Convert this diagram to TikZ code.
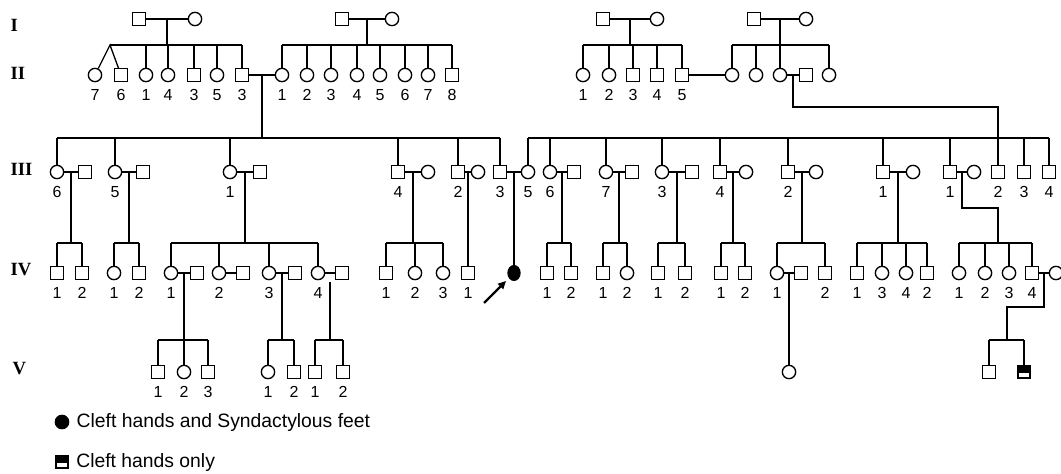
\documentclass[tikz,border=0pt]{standalone}
\usepackage{fontspec}
\setmainfont{Liberation Sans}
\newfontfamily\genfont{Liberation Serif}
\usetikzlibrary{calc,positioning,shapes.geometric,arrows.meta}

\tikzset{
  male/.style={draw, rectangle, minimum size=9.5pt, inner sep=0pt},
  female/.style={draw, circle, minimum size=10pt, inner sep=0pt},
  proband/.style={draw, ellipse, fill=black, minimum width=9pt, minimum height=11pt, inner sep=0pt},
  cleft/.style={male, fill=black, path picture={\fill[white] ([shift={(1.3pt,1.3pt)}]path picture bounding box.south west) rectangle ([shift={(-1.3pt,-0.6pt)}]path picture bounding box.east);}},
  gen/.style={font=\genfont\bfseries\fontsize{14}{15}\selectfont, anchor=west, inner sep=0pt},
  every label/.style={font=\fontsize{12}{13}\selectfont, inner sep=0pt},
  key/.style={font=\fontsize{14.5}{16}\selectfont, inner sep=0pt},
  label distance=5pt
}

\begin{document}
\begin{tikzpicture}[x=0.75pt, y=-0.75pt, line width=1pt]
    \useasboundingbox (0,0) rectangle (1061,474);

    % Generation labels
    \node[gen] (gI)   at (10,25)  {I};
    \node[gen] (gII)  at (10,73)  {II};
    \node[gen] (gIII) at (10,169) {III};
    \node[gen] (gIV)  at (10,270) {IV};
    \node[gen] (gV)   at (12,369) {V};

    % Generation I
    \node[male]   (IA1) at (139,19) {};
    \node[female] (IA2) at (195,19) {};
    \node[male]   (IB1) at (342,19) {};
    \node[female] (IB2) at (392,19) {};
    \node[male]   (IC1) at (603,19) {};
    \node[female] (IC2) at (657,19) {};
    \node[male]   (ID1) at (754,19) {};
    \node[female] (ID2) at (806,19) {};

    % Generation II
    \node[female, label=below:7] (a1) at (95,75)  {};
    \node[male,   label=below:6] (a2) at (121,75) {};
    \node[female, label=below:1] (a3) at (146,75) {};
    \node[female, label=below:4] (a4) at (168,75) {};
    \node[male,   label=below:3] (a5) at (194,75) {};
    \node[female, label=below:5] (a6) at (217,75) {};
    \node[male,   label=below:3] (a7) at (242,75) {};
    \foreach \n/\x in {1/282,2/307,3/331,4/357,5/380,6/405,7/428}
        \node[female, label=below:\n] (b\n) at (\x,75) {};
    \node[male,   label=below:8] (b8) at (452,75) {};
    \node[female, label=below:1] (c1) at (583,75) {};
    \node[female, label=below:2] (c2) at (609,75) {};
    \node[male,   label=below:3] (c3) at (633,75) {};
    \node[male,   label=below:4] (c4) at (657,75) {};
    \node[male,   label=below:5] (c5) at (682,75) {};
    \node[female] (d1)  at (732,75) {};
    \node[female] (d2)  at (756,75) {};
    \node[female] (d3)  at (780,75) {};
    \node[male]   (d3s) at (806,75) {};
    \node[female] (d4)  at (829,75) {};

    % Generation III
    \node[female, label=below:6] (e1) at (57,172)  {};
    \node[male]                  (e1s) at (85,172) {};
    \node[female, label=below:5] (e2) at (115,172) {};
    \node[male]                  (e2s) at (143,172) {};
    \node[female, label=below:1] (e3) at (230,172) {};
    \node[male]                  (e3s) at (260,172) {};
    \node[male,   label=below:4] (e4) at (398,172) {};
    \node[female]                (e4s) at (428,172) {};
    \node[male,   label=below:2] (e5) at (458,172) {};
    \node[female]                (e5s) at (478,172) {};
    \node[male,   label=below:3] (e6) at (500,172) {};
    \node[female, label=below:5] (f1) at (528,172) {};
    \node[female, label=below:6] (f2) at (550,172) {};
    \node[male]                  (f2s) at (574,172) {};
    \node[female, label=below:7] (f3) at (606,172) {};
    \node[male]                  (f3s) at (632,172) {};
    \node[female, label=below:3] (f4) at (662,172) {};
    \node[male]                  (f4s) at (692,172) {};
    \node[male,   label=below:4] (f5) at (720,172) {};
    \node[female]                (f5s) at (746,172) {};
    \node[male,   label=below:2] (f6) at (788,172) {};
    \node[female]                (f6s) at (816,172) {};
    \node[male,   label=below:1] (f7) at (883,172) {};
    \node[female]                (f7s) at (913,172) {};
    \node[male,   label=below:1] (f8) at (950,172) {};
    \node[female]                (f8s) at (974,172) {};
    \node[male,   label=below:2] (f9)  at (998,172)  {};
    \node[male,   label=below:3] (f10) at (1024,172) {};
    \node[male,   label=below:4] (f11) at (1049,172) {};

    % Generation IV
    \node[male,   label=below:1] (g1) at (57,273)  {};
    \node[male,   label=below:2] (g2) at (82,273)  {};
    \node[female, label=below:1] (g3) at (114,273) {};
    \node[male,   label=below:2] (g4) at (139,273) {};
    \node[female, label=below:1] (h1) at (171,273) {};
    \node[male]                  (h1s) at (197,273) {};
    \node[female, label=below:2] (h2) at (219,273) {};
    \node[male]                  (h2s) at (243,273) {};
    \node[female, label=below:3] (h3) at (269,273) {};
    \node[male]                  (h3s) at (295,273) {};
    \node[female, label=below:4] (h4) at (318,273) {};
    \node[male]                  (h4s) at (342,273) {};
    \node[male,   label=below:1] (i1) at (386,273) {};
    \node[female, label=below:2] (i2) at (415,273) {};
    \node[female, label=below:3] (i3) at (443,273) {};
    \node[male,   label=below:1] (i4) at (468,273) {};
    \node[proband]               (pro) at (514,273) {};
    \node[male,   label=below:1] (j1) at (547,273) {};
    \node[male,   label=below:2] (j2) at (571,273) {};
    \node[male,   label=below:1] (j3) at (603,273) {};
    \node[female, label=below:2] (j4) at (627,273) {};
    \node[male,   label=below:1] (j5) at (658,273) {};
    \node[male,   label=below:2] (j6) at (685,273) {};
    \node[male,   label=below:1] (j7) at (721,273) {};
    \node[male,   label=below:2] (j8) at (745,273) {};
    \node[female, label=below:1] (k1) at (777,273) {};
    \node[male]                  (k1s) at (801,273) {};
    \node[male,   label=below:2] (k2) at (825,273) {};
    \node[male,   label=below:1] (l1) at (857,273) {};
    \node[female, label=below:3] (l2) at (882,273) {};
    \node[female, label=below:4] (l3) at (906,273) {};
    \node[male,   label=below:2] (l4) at (927,273) {};
    \node[female, label=below:1] (n1) at (959,273) {};
    \node[female, label=below:2] (n2) at (985,273) {};
    \node[female, label=below:3] (n3) at (1009,273) {};
    \node[male,   label=below:4] (n4) at (1032,273) {};
    \node[female]                (n4s) at (1056,273) {};

    % Generation V
    \node[male,   label=below:1] (v1) at (158,372) {};
    \node[female, label=below:2] (v2) at (184,372) {};
    \node[male,   label=below:3] (v3) at (208,372) {};
    \node[female, label=below:1] (v4) at (268,372) {};
    \node[male,   label=below:2] (v5) at (294,372) {};
    \node[male,   label=below:1] (v6) at (315,372) {};
    \node[male,   label=below:2] (v7) at (343,372) {};
    \node[female]                (v8) at (789,372) {};
    \node[male]                  (v9) at (989,372) {};
    \node[cleft]                 (v10) at (1024,372) {};

    % Sibship lines
    \coordinate (bII)  at (0,45);
    \coordinate (bIII) at (0,138);
    \coordinate (bIV)  at (0,243);
    \coordinate (bV)   at (0,340);

    % I -> II
    \foreach \p in {A,B,C,D} {
        \draw (I\p1) -- (I\p2);
        \coordinate (m\p) at ($(I\p1)!.5!(I\p2)$);
        \draw (m\p) -- (m\p |- bII);
    }
    \coordinate (tw) at (110,45);
    \draw (tw) -- (a7 |- bII);
    \draw (a1) -- (tw) -- (a2);
    \draw (b1 |- bII) -- (b8 |- bII);
    \draw (c1 |- bII) -- (c5 |- bII);
    \draw (d1 |- bII) -- (d4 |- bII);
    \foreach \c in {a3,a4,a5,a6,a7,b1,b2,b3,b4,b5,b6,b7,b8,c1,c2,c3,c4,c5,d1,d2,d3,d4}
        \draw (\c |- bII) -- (\c);

    % couples
    \foreach \a/\b in {a7/b1, c5/d1, d3/d3s, e1/e1s, e2/e2s, e3/e3s, e4/e4s, e5/e5s, e6/f1,
        f2/f2s, f3/f3s, f4/f4s, f5/f5s, f6/f6s, f7/f7s, f8/f8s,
        h1/h1s, h2/h2s, h3/h3s, h4/h4s, k1/k1s, n4/n4s}
        \draw (\a) -- (\b);

    % II -> III
    \coordinate (mL) at ($(a7)!.5!(b1)$);
    \draw (mL) -- (mL |- bIII);
    \coordinate (mR) at ($(d3)!.5!(d3s)$);
    \coordinate (kR) at (998,107);
    \draw (mR) |- (kR) -- (kR |- bIII);
    \draw (e1 |- bIII) -- (e6 |- bIII);
    \draw (f1 |- bIII) -- (f11 |- bIII);
    \foreach \c in {e1,e2,e3,e4,e5,e6,f1,f2,f3,f4,f5,f6,f7,f8,f9,f10,f11}
        \draw (\c |- bIII) -- (\c);

    % III -> IV
    \foreach \a/\b/\l/\r in {e1/e1s/g1/g2, e2/e2s/g3/g4, e3/e3s/h1/h4, e4/e4s/i1/i3,
        f2/f2s/j1/j2, f3/f3s/j3/j4, f4/f4s/j5/j6, f5/f5s/j7/j8, f6/f6s/k1/k2, f7/f7s/l1/l4} {
        \coordinate (m) at ($(\a)!.5!(\b)$);
        \draw (m) -- (m |- bIV);
        \draw (\l |- bIV) -- (\r |- bIV);
    }
    \draw ($(e5)!.5!(e5s)$) -- (i4);
    \draw ($(e6)!.5!(f1)$) -- (pro);
    \coordinate (kF) at (998,208);
    \draw ($(f8)!.5!(f8s)$) |- (kF) -- (kF |- bIV);
    \draw (n1 |- bIV) -- (n4 |- bIV);
    \foreach \c in {g1,g2,g3,g4,h1,h2,h3,h4,i1,i2,i3,j1,j2,j3,j4,j5,j6,j7,j8,k1,k2,l1,l2,l3,l4,n1,n2,n3,n4}
        \draw (\c |- bIV) -- (\c);

    % IV -> V
    \coordinate (mh1) at ($(h1)!.5!(h1s)$);
    \draw (mh1) -- (mh1 |- bV);
    \draw (v1 |- bV) -- (v3 |- bV);
    \coordinate (mh3) at ($(h3)!.5!(h3s)$);
    \draw (mh3) -- (mh3 |- bV);
    \draw (v4 |- bV) -- (v5 |- bV);
    \coordinate (mh4) at ($(h4)!.5!(h4s)+(0,9)$);
    \draw (mh4) -- (mh4 |- bV);
    \draw (v6 |- bV) -- (v7 |- bV);
    \draw ($(k1)!.5!(k1s)$) -- (v8);
    \coordinate (kN) at (1007,307);
    \draw ($(n4)!.5!(n4s)$) |- (kN) -- (kN |- bV);
    \draw (v9 |- bV) -- (v10 |- bV);
    \foreach \c in {v1,v2,v3,v4,v5,v6,v7,v9,v10}
        \draw (\c |- bV) -- (\c);

    % proband arrow
    \coordinate (ptr) at (484,303);
    \draw[line width=1.6pt, -{Triangle[length=6pt,width=5.5pt]}, shorten >=3pt] (ptr) -- (pro);

    % key
    \node[female, fill=black] (key1) at (62,422) {};
    \node[key, right=5pt of key1] (key1t) {Cleft hands and Syndactylous feet};
    \node[cleft] (key2) at (62,462) {};
    \node[key, right=5pt of key2] (key2t) {Cleft hands only};
\end{tikzpicture}
\end{document}
